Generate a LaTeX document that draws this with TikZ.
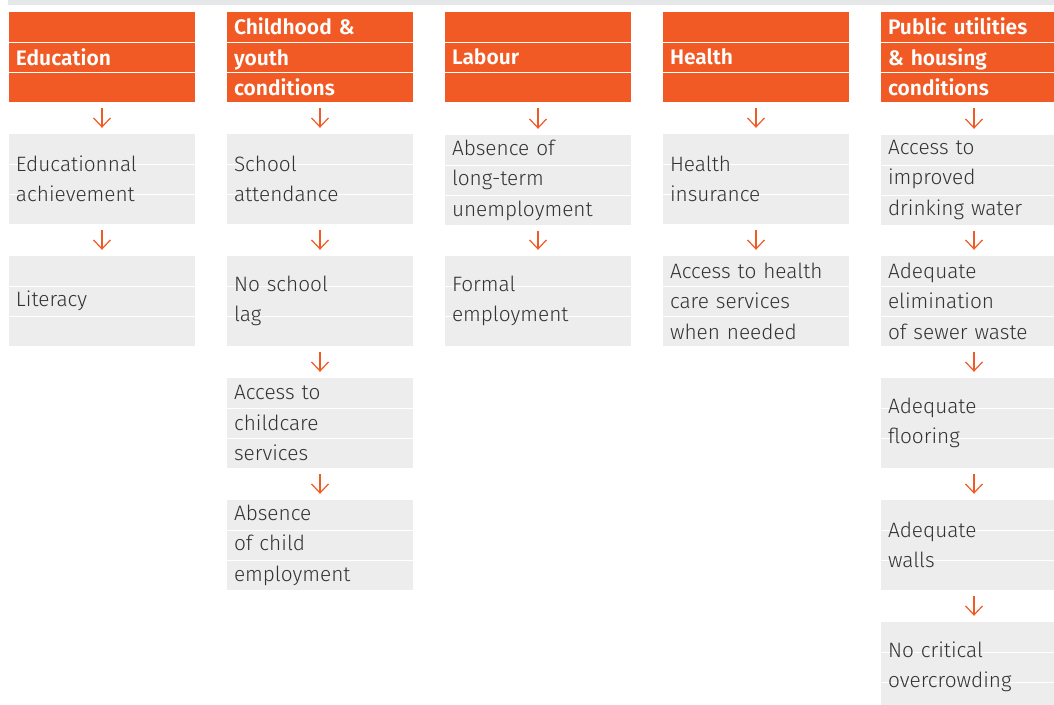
\documentclass[tikz,border=0pt]{standalone}
\usepackage{fontspec}
\usepackage{xcolor}
\usetikzlibrary{arrows.meta}
\newfontfamily\bodyfont{Fira Sans Light}
\newfontfamily\headfont{Fira Sans SemiBold}
\definecolor{dimorange}{HTML}{F15A24}
\definecolor{boxgray}{HTML}{EDEDED}
\definecolor{bandgray}{HTML}{E6E7E8}
\definecolor{inkgray}{HTML}{333333}

\tikzset{
  rowlines/.style={path picture={
      \draw[white,line width=1pt] ([yshift=-30pt]path picture bounding box.north west) -- ++(200pt,0);
      \draw[white,line width=1pt] ([yshift=-60pt]path picture bounding box.north west) -- ++(200pt,0);}},
  dimbox/.style={rectangle, rowlines, minimum width=186pt, minimum height=90pt,
      text width=172pt, inner xsep=7pt, inner ysep=0pt, align=left},
  headbox/.style={dimbox, fill=dimorange, text=white, font=\headfont\fontsize{21}{30.5}\selectfont},
  itembox/.style={dimbox, fill=boxgray, text=inkgray, font=\bodyfont\fontsize{20.8}{30.5}\selectfont},
  flow/.style={draw=dimorange, line width=1.2pt, -{Straight Barb[length=9pt,width=17pt]},
      shorten <=6pt, shorten >=6pt}
}

\begin{document}
\begin{tikzpicture}[x=1pt,y=-1pt]
\useasboundingbox (0,0) rectangle (1054,704);
\fill[bandgray] (8,0) rectangle (1054,5);

% Education
\node[headbox] (edu0) at (102,57) {Education};
\node[itembox] (edu1) at (102,179) {Educationnal\\achievement};
\node[itembox] (edu2) at (102,301) {Literacy};
\draw[flow] (edu0) -- (edu1);
\draw[flow] (edu1) -- (edu2);

% Childhood & youth
\node[headbox] (child0) at (320,57) {Childhood \&\\youth\\conditions};
\node[itembox] (child1) at (320,179) {School\\attendance};
\node[itembox] (child2) at (320,301) {No school\\lag};
\node[itembox] (child3) at (320,423) {Access to\\childcare\\services};
\node[itembox] (child4) at (320,545) {Absence\\of child\\employment};
\draw[flow] (child0) -- (child1);
\draw[flow] (child1) -- (child2);
\draw[flow] (child2) -- (child3);
\draw[flow] (child3) -- (child4);

% Labour
\node[headbox] (lab0) at (538,57) {Labour};
\node[itembox] (lab1) at (538,180) {Absence of\\long-term\\unemployment};
\node[itembox] (lab2) at (538,301) {Formal\\employment};
\draw[flow] (lab0) -- (lab1);
\draw[flow] (lab1) -- (lab2);

% Health
\node[headbox] (hlth0) at (756,57) {Health};
\node[itembox] (hlth1) at (756,179) {Health\\insurance};
\node[itembox] (hlth2) at (756,301) {Access to health\\care services\\when needed};
\draw[flow] (hlth0) -- (hlth1);
\draw[flow] (hlth1) -- (hlth2);

% Public utilities & housing
\node[headbox] (util0) at (974,57) {Public utilities\\\& housing\\conditions};
\node[itembox] (util1) at (974,180) {Access to\\improved\\drinking water};
\node[itembox] (util2) at (974,301) {Adequate\\elimination\\of sewer waste};
\node[itembox] (util3) at (974,423) {Adequate\\flooring};
\node[itembox] (util4) at (974,545) {Adequate\\walls};
\node[itembox] (util5) at (974,667) {No critical\\overcrowding};
\draw[flow] (util0) -- (util1);
\draw[flow] (util1) -- (util2);
\draw[flow] (util2) -- (util3);
\draw[flow] (util3) -- (util4);
\draw[flow] (util4) -- (util5);
\end{tikzpicture}
\end{document}
